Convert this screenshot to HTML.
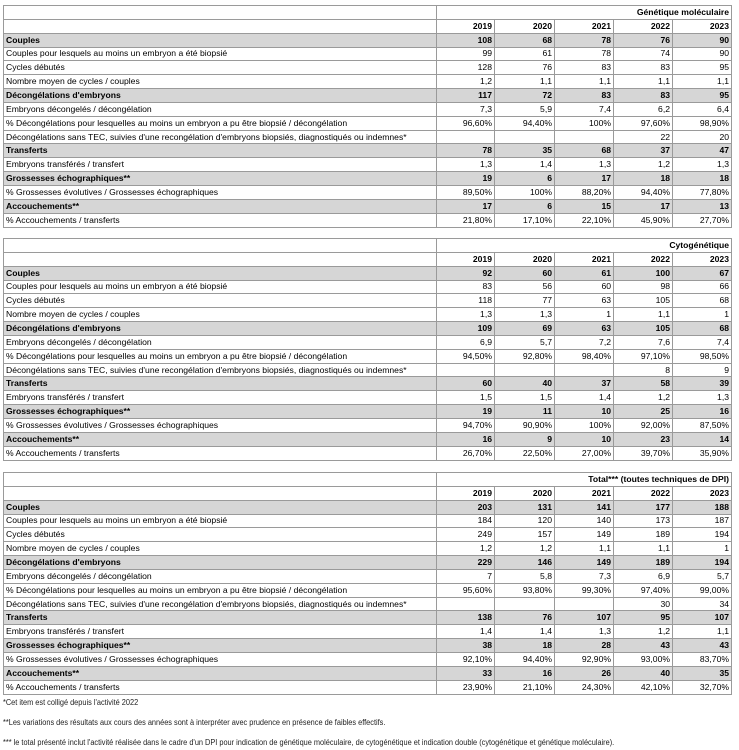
<!DOCTYPE html>
<html><head><meta charset="utf-8"><style>
body{margin:0;width:739px;height:750px;background:#fff;position:relative;overflow:hidden;font-family:"Liberation Sans",Arial,sans-serif;color:#000}
table{position:absolute;left:3px;border-collapse:collapse;table-layout:fixed;width:728px;font-size:8.6px}
td{border:1px solid #9a9a9a;padding:0 2px;height:12.85px;line-height:11px;white-space:nowrap;overflow:hidden}
td.n{text-align:right}
tr.g td{background:#d6d6d6;font-weight:bold}
tr.h td{font-weight:bold;text-align:right}
.f{position:absolute;left:3px;font-family:"Liberation Sans Narrow","Liberation Sans",sans-serif;font-size:8px;color:#222;white-space:nowrap;transform:scaleX(0.92);transform-origin:0 0}
</style></head><body>

<table style="top:5px">
<colgroup><col style="width:433px"><col style="width:58px"><col style="width:60px"><col style="width:59px"><col style="width:59px"><col style="width:59px"></colgroup>
<tr class="h"><td></td><td colspan="5">Génétique moléculaire</td></tr>
<tr class="h"><td></td><td>2019</td><td>2020</td><td>2021</td><td>2022</td><td>2023</td></tr>
<tr class="g"><td>Couples</td><td class="n">108</td><td class="n">68</td><td class="n">78</td><td class="n">76</td><td class="n">90</td></tr>
<tr><td>Couples pour lesquels au moins un embryon a été biopsié</td><td class="n">99</td><td class="n">61</td><td class="n">78</td><td class="n">74</td><td class="n">90</td></tr>
<tr><td>Cycles débutés</td><td class="n">128</td><td class="n">76</td><td class="n">83</td><td class="n">83</td><td class="n">95</td></tr>
<tr><td>Nombre moyen de cycles / couples</td><td class="n">1,2</td><td class="n">1,1</td><td class="n">1,1</td><td class="n">1,1</td><td class="n">1,1</td></tr>
<tr class="g"><td>Décongélations d'embryons</td><td class="n">117</td><td class="n">72</td><td class="n">83</td><td class="n">83</td><td class="n">95</td></tr>
<tr><td>Embryons décongelés / décongélation</td><td class="n">7,3</td><td class="n">5,9</td><td class="n">7,4</td><td class="n">6,2</td><td class="n">6,4</td></tr>
<tr><td>% Décongélations pour lesquelles au moins un embryon a pu être biopsié / décongélation</td><td class="n">96,60%</td><td class="n">94,40%</td><td class="n">100%</td><td class="n">97,60%</td><td class="n">98,90%</td></tr>
<tr><td>Décongélations sans TEC, suivies d'une recongélation d'embryons biopsiés, diagnostiqués ou indemnes*</td><td class="n"></td><td class="n"></td><td class="n"></td><td class="n">22</td><td class="n">20</td></tr>
<tr class="g"><td>Transferts</td><td class="n">78</td><td class="n">35</td><td class="n">68</td><td class="n">37</td><td class="n">47</td></tr>
<tr><td>Embryons transférés / transfert</td><td class="n">1,3</td><td class="n">1,4</td><td class="n">1,3</td><td class="n">1,2</td><td class="n">1,3</td></tr>
<tr class="g"><td>Grossesses échographiques**</td><td class="n">19</td><td class="n">6</td><td class="n">17</td><td class="n">18</td><td class="n">18</td></tr>
<tr><td>% Grossesses évolutives / Grossesses échographiques</td><td class="n">89,50%</td><td class="n">100%</td><td class="n">88,20%</td><td class="n">94,40%</td><td class="n">77,80%</td></tr>
<tr class="g"><td>Accouchements**</td><td class="n">17</td><td class="n">6</td><td class="n">15</td><td class="n">17</td><td class="n">13</td></tr>
<tr><td>% Accouchements / transferts</td><td class="n">21,80%</td><td class="n">17,10%</td><td class="n">22,10%</td><td class="n">45,90%</td><td class="n">27,70%</td></tr>
</table>

<table style="top:238px">
<colgroup><col style="width:433px"><col style="width:58px"><col style="width:60px"><col style="width:59px"><col style="width:59px"><col style="width:59px"></colgroup>
<tr class="h"><td></td><td colspan="5">Cytogénétique</td></tr>
<tr class="h"><td></td><td>2019</td><td>2020</td><td>2021</td><td>2022</td><td>2023</td></tr>
<tr class="g"><td>Couples</td><td class="n">92</td><td class="n">60</td><td class="n">61</td><td class="n">100</td><td class="n">67</td></tr>
<tr><td>Couples pour lesquels au moins un embryon a été biopsié</td><td class="n">83</td><td class="n">56</td><td class="n">60</td><td class="n">98</td><td class="n">66</td></tr>
<tr><td>Cycles débutés</td><td class="n">118</td><td class="n">77</td><td class="n">63</td><td class="n">105</td><td class="n">68</td></tr>
<tr><td>Nombre moyen de cycles / couples</td><td class="n">1,3</td><td class="n">1,3</td><td class="n">1</td><td class="n">1,1</td><td class="n">1</td></tr>
<tr class="g"><td>Décongélations d'embryons</td><td class="n">109</td><td class="n">69</td><td class="n">63</td><td class="n">105</td><td class="n">68</td></tr>
<tr><td>Embryons décongelés / décongélation</td><td class="n">6,9</td><td class="n">5,7</td><td class="n">7,2</td><td class="n">7,6</td><td class="n">7,4</td></tr>
<tr><td>% Décongélations pour lesquelles au moins un embryon a pu être biopsié / décongélation</td><td class="n">94,50%</td><td class="n">92,80%</td><td class="n">98,40%</td><td class="n">97,10%</td><td class="n">98,50%</td></tr>
<tr><td>Décongélations sans TEC, suivies d'une recongélation d'embryons biopsiés, diagnostiqués ou indemnes*</td><td class="n"></td><td class="n"></td><td class="n"></td><td class="n">8</td><td class="n">9</td></tr>
<tr class="g"><td>Transferts</td><td class="n">60</td><td class="n">40</td><td class="n">37</td><td class="n">58</td><td class="n">39</td></tr>
<tr><td>Embryons transférés / transfert</td><td class="n">1,5</td><td class="n">1,5</td><td class="n">1,4</td><td class="n">1,2</td><td class="n">1,3</td></tr>
<tr class="g"><td>Grossesses échographiques**</td><td class="n">19</td><td class="n">11</td><td class="n">10</td><td class="n">25</td><td class="n">16</td></tr>
<tr><td>% Grossesses évolutives / Grossesses échographiques</td><td class="n">94,70%</td><td class="n">90,90%</td><td class="n">100%</td><td class="n">92,00%</td><td class="n">87,50%</td></tr>
<tr class="g"><td>Accouchements**</td><td class="n">16</td><td class="n">9</td><td class="n">10</td><td class="n">23</td><td class="n">14</td></tr>
<tr><td>% Accouchements / transferts</td><td class="n">26,70%</td><td class="n">22,50%</td><td class="n">27,00%</td><td class="n">39,70%</td><td class="n">35,90%</td></tr>
</table>

<table style="top:472px">
<colgroup><col style="width:433px"><col style="width:58px"><col style="width:60px"><col style="width:59px"><col style="width:59px"><col style="width:59px"></colgroup>
<tr class="h"><td></td><td colspan="5">Total*** (toutes techniques de DPI)</td></tr>
<tr class="h"><td></td><td>2019</td><td>2020</td><td>2021</td><td>2022</td><td>2023</td></tr>
<tr class="g"><td>Couples</td><td class="n">203</td><td class="n">131</td><td class="n">141</td><td class="n">177</td><td class="n">188</td></tr>
<tr><td>Couples pour lesquels au moins un embryon a été biopsié</td><td class="n">184</td><td class="n">120</td><td class="n">140</td><td class="n">173</td><td class="n">187</td></tr>
<tr><td>Cycles débutés</td><td class="n">249</td><td class="n">157</td><td class="n">149</td><td class="n">189</td><td class="n">194</td></tr>
<tr><td>Nombre moyen de cycles / couples</td><td class="n">1,2</td><td class="n">1,2</td><td class="n">1,1</td><td class="n">1,1</td><td class="n">1</td></tr>
<tr class="g"><td>Décongélations d'embryons</td><td class="n">229</td><td class="n">146</td><td class="n">149</td><td class="n">189</td><td class="n">194</td></tr>
<tr><td>Embryons décongelés / décongélation</td><td class="n">7</td><td class="n">5,8</td><td class="n">7,3</td><td class="n">6,9</td><td class="n">5,7</td></tr>
<tr><td>% Décongélations pour lesquelles au moins un embryon a pu être biopsié / décongélation</td><td class="n">95,60%</td><td class="n">93,80%</td><td class="n">99,30%</td><td class="n">97,40%</td><td class="n">99,00%</td></tr>
<tr><td>Décongélations sans TEC, suivies d'une recongélation d'embryons biopsiés, diagnostiqués ou indemnes*</td><td class="n"></td><td class="n"></td><td class="n"></td><td class="n">30</td><td class="n">34</td></tr>
<tr class="g"><td>Transferts</td><td class="n">138</td><td class="n">76</td><td class="n">107</td><td class="n">95</td><td class="n">107</td></tr>
<tr><td>Embryons transférés / transfert</td><td class="n">1,4</td><td class="n">1,4</td><td class="n">1,3</td><td class="n">1,2</td><td class="n">1,1</td></tr>
<tr class="g"><td>Grossesses échographiques**</td><td class="n">38</td><td class="n">18</td><td class="n">28</td><td class="n">43</td><td class="n">43</td></tr>
<tr><td>% Grossesses évolutives / Grossesses échographiques</td><td class="n">92,10%</td><td class="n">94,40%</td><td class="n">92,90%</td><td class="n">93,00%</td><td class="n">83,70%</td></tr>
<tr class="g"><td>Accouchements**</td><td class="n">33</td><td class="n">16</td><td class="n">26</td><td class="n">40</td><td class="n">35</td></tr>
<tr><td>% Accouchements / transferts</td><td class="n">23,90%</td><td class="n">21,10%</td><td class="n">24,30%</td><td class="n">42,10%</td><td class="n">32,70%</td></tr>
</table>

<div class="f" style="top:698px">*Cet item est colligé depuis l'activité 2022</div>
<div class="f" style="top:718px">**Les variations des résultats aux cours des années sont à interpréter avec prudence en présence de faibles effectifs.</div>
<div class="f" style="top:738px">*** le total présenté inclut l'activité réalisée dans le cadre d'un DPI pour indication de génétique moléculaire, de cytogénétique et indication double (cytogénétique et génétique moléculaire).</div>
</body></html>
